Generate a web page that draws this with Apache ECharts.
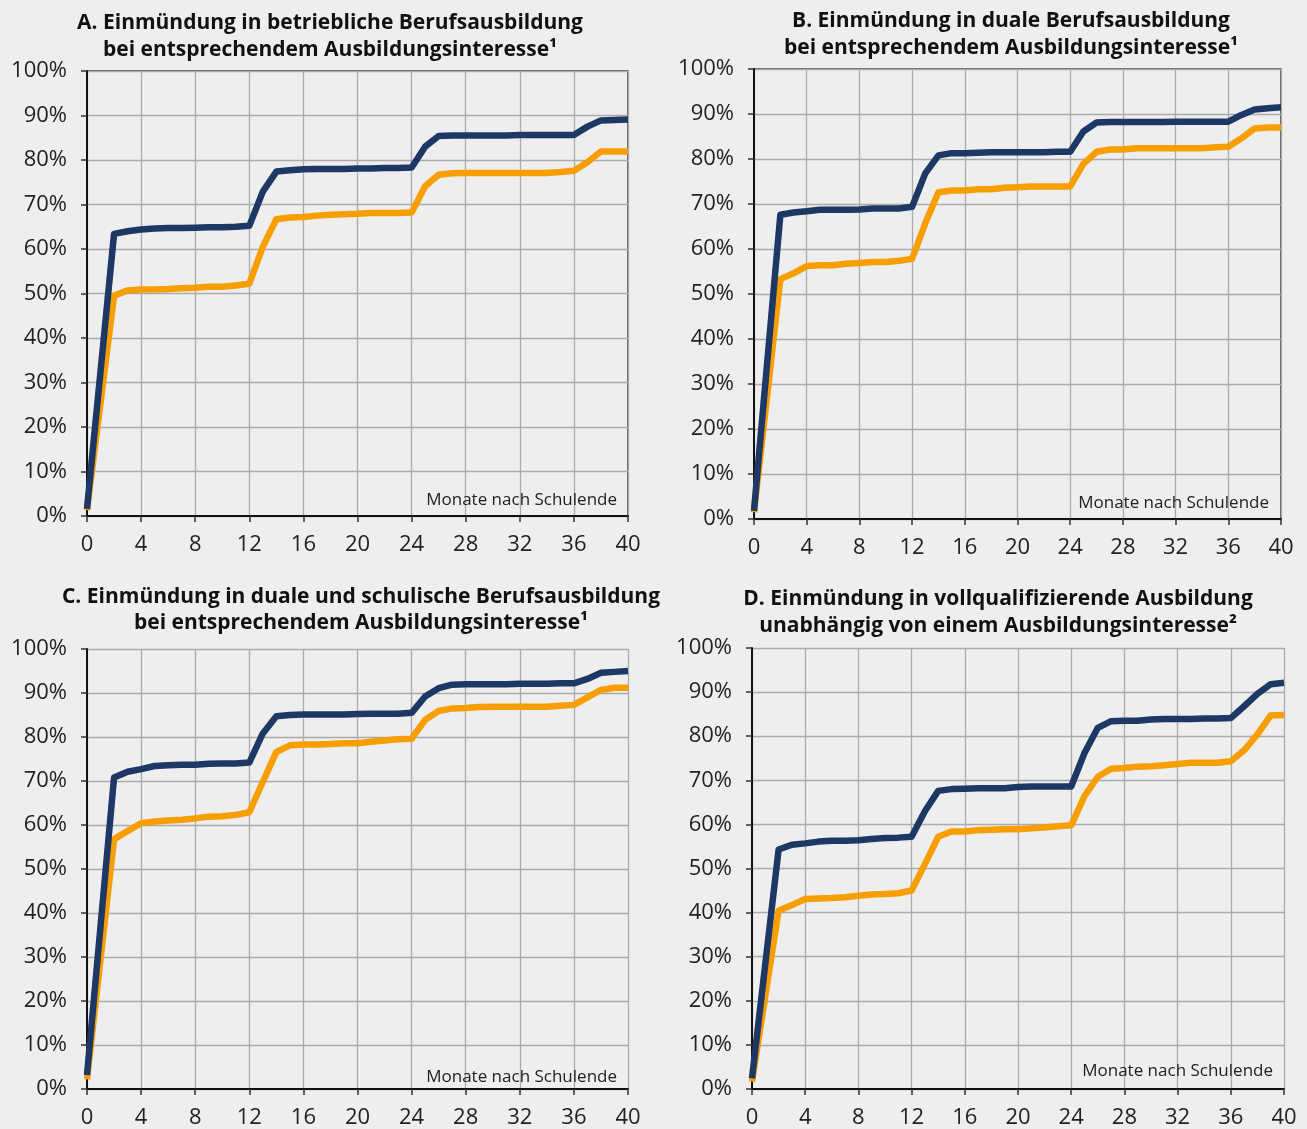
<!DOCTYPE html>
<html>
<head>
<meta charset="utf-8">
<script src="https://cdn.jsdelivr.net/npm/echarts@6/dist/echarts.min.js"></script>
<style>
html,body{margin:0;padding:0;background:#eeeeee;}
#chart{width:1307px;height:1129px;}
</style>
</head>
<body>
<div id="chart"></div>
<script>
// Months after school end (x values)
var months = [0,2,3,4,5,6,7,8,9,10,11,12,13,14,15,16,17,18,19,20,21,22,23,24,25,26,27,28,29,30,31,32,33,34,35,36,37,38,39,40];
var xTicks = [0,4,8,12,16,20,24,28,32,36,40];
var yTicks = [0,10,20,30,40,50,60,70,80,90,100];

var titlesA = ['A. Einmündung in betriebliche Berufsausbildung', 'bei entsprechendem Ausbildungsinteresse¹'];
var titlesB = ['B. Einmündung in duale Berufsausbildung', 'bei entsprechendem Ausbildungsinteresse¹'];
var titlesC = ['C. Einmündung in duale und schulische Berufsausbildung', 'bei entsprechendem Ausbildungsinteresse¹'];
var titlesD = ['D. Einmündung in vollqualifizierende Ausbildung', 'unabhängig von einem Ausbildungsinteresse²'];
var xName = 'Monate nach Schulende';

// Panel A
var aNavy = [1.6,63.4,64.0,64.4,64.6,64.7,64.7,64.8,64.9,64.9,65.0,65.2,72.9,77.4,77.7,77.9,78.0,78.0,78.0,78.1,78.1,78.2,78.2,78.3,83.0,85.4,85.5,85.5,85.5,85.5,85.5,85.6,85.6,85.6,85.6,85.6,87.5,88.9,89.0,89.1];
var aOrange = [1.3,49.5,50.7,50.9,50.9,51.0,51.2,51.3,51.5,51.5,51.8,52.2,60.5,66.7,67.1,67.2,67.5,67.7,67.8,67.9,68.1,68.1,68.1,68.2,74.1,76.7,77.0,77.1,77.1,77.1,77.1,77.1,77.1,77.1,77.3,77.6,79.5,81.9,81.9,81.9];
// Panel B
var bNavy = [1.8,67.6,68.1,68.4,68.7,68.7,68.7,68.8,69.0,69.0,69.0,69.4,76.8,80.8,81.3,81.3,81.4,81.5,81.5,81.5,81.5,81.5,81.6,81.6,86.1,88.1,88.2,88.2,88.2,88.2,88.2,88.3,88.3,88.3,88.3,88.3,89.8,91.0,91.3,91.5];
var bOrange = [1.5,53.3,54.6,56.2,56.4,56.4,56.7,56.9,57.1,57.1,57.4,57.8,65.7,72.6,73.0,73.0,73.3,73.3,73.6,73.7,73.9,73.9,73.9,73.9,78.9,81.6,82.1,82.1,82.4,82.4,82.4,82.4,82.4,82.4,82.6,82.7,84.6,86.8,87.0,87.0];
// Panel C
var cNavy = [3.2,70.8,72.1,72.7,73.4,73.6,73.7,73.7,73.9,74.0,74.0,74.2,80.8,84.7,85.0,85.1,85.1,85.1,85.1,85.2,85.3,85.3,85.3,85.5,89.2,91.1,91.9,92.0,92.0,92.0,92.0,92.1,92.1,92.1,92.2,92.2,93.2,94.6,94.8,95.0];
var cOrange = [2.2,56.8,58.6,60.4,60.8,61.0,61.2,61.5,61.9,62.0,62.3,62.9,69.8,76.6,78.1,78.3,78.3,78.4,78.6,78.6,78.9,79.2,79.5,79.6,83.9,85.9,86.5,86.6,86.8,86.9,86.9,86.9,86.9,86.9,87.1,87.3,89.0,90.7,91.2,91.2];
// Panel D
var dNavy = [2.4,54.3,55.4,55.7,56.1,56.3,56.3,56.4,56.7,56.9,57.0,57.2,63.0,67.6,68.0,68.1,68.2,68.2,68.2,68.5,68.6,68.6,68.6,68.6,76.2,81.9,83.4,83.5,83.5,83.8,83.9,83.9,83.9,84.0,84.0,84.1,86.8,89.6,91.8,92.1];
var dOrange = [1.7,40.4,41.7,43.1,43.2,43.3,43.5,43.8,44.1,44.2,44.4,45.0,51.0,57.2,58.4,58.4,58.7,58.8,58.9,58.9,59.1,59.3,59.6,59.8,66.4,70.8,72.6,72.8,73.1,73.2,73.4,73.7,74.0,74.0,74.0,74.3,76.8,80.4,84.7,84.8];

var NAVY = '#1d3865';
var ORANGE = '#f79e02';

function pairs(vals){ return months.map(function(m,i){ return [m, vals[i]]; }); }

var panels = [
  {grid:{left:87, top:71, width:541, height:445, show:true, borderColor:'#333', borderWidth:1.5, backgroundColor:'transparent'}, navy:aNavy, orange:aOrange, titles:titlesA, tx:330, ty:[23,50], nx:617, ny:500},
  {grid:{left:754, top:69, width:527, height:450, show:true, borderColor:'#333', borderWidth:1.5, backgroundColor:'transparent'}, navy:bNavy, orange:bOrange, titles:titlesB, tx:1011, ty:[21,48], nx:1269, ny:503},
  {grid:{left:87, top:649, width:541, height:443}, navy:cNavy, orange:cOrange, titles:titlesC, tx:361, ty:[597,623], nx:617, ny:1077},
  {grid:{left:752, top:648, width:532, height:442}, navy:dNavy, orange:dOrange, titles:titlesD, tx:998, ty:[599,626], nx:1273, ny:1071}
];

var LABEL_FONT = '"Open Sans", sans-serif';
var grids=[], xAxes=[], yAxes=[], series=[], graphics=[];
panels.forEach(function(p, i){
  grids.push(p.grid);
  xAxes.push({
    type:'value', gridIndex:i, min:xTicks[0], max:xTicks[xTicks.length-1], interval:xTicks[1]-xTicks[0],
    axisLine:{show:true, onZero:false, lineStyle:{color:'#111', width:2}},
    axisTick:{show:true, length:6, lineStyle:{color:'#333', width:1.5}},
    splitLine:{show:true, lineStyle:{color:'#ababab', width:1.3}},
    axisLabel:{color:'#222', fontSize:22, fontFamily:LABEL_FONT, margin:18}
  });
  yAxes.push({
    type:'value', gridIndex:i, min:yTicks[0], max:yTicks[yTicks.length-1], interval:yTicks[1]-yTicks[0],
    axisLine:{show:true, lineStyle:{color:'#111', width:2}},
    axisTick:{show:true, length:6, lineStyle:{color:'#333', width:1.5}},
    splitLine:{show:true, lineStyle:{color:'#ababab', width:1.3}},
    axisLabel:{color:'#222', fontSize:22, fontFamily:LABEL_FONT, margin:20, formatter:'{value}%'}
  });
  series.push({type:'line', xAxisIndex:i, yAxisIndex:i, data:pairs(p.orange), showSymbol:false, symbol:'none', smooth:false,
    lineStyle:{color:ORANGE, width:6.5, cap:'butt', join:'round'}, z:3, silent:true, animation:false});
  series.push({type:'line', xAxisIndex:i, yAxisIndex:i, data:pairs(p.navy), showSymbol:false, symbol:'none', smooth:false,
    lineStyle:{color:NAVY, width:6.5, cap:'butt', join:'round'}, z:4, silent:true, animation:false});
  p.titles.forEach(function(t, k){
    graphics.push({type:'text', x:p.tx, y:p.ty[k], silent:true, style:{text:t, textAlign:'center', textVerticalAlign:'middle',
      font:'bold 21px "Open Sans", sans-serif', fill:'#111'}});
  });
  graphics.push({type:'text', x:p.nx, y:p.ny, silent:true, z:10, style:{text:xName, textAlign:'right', textVerticalAlign:'middle',
    font:'17px "Open Sans", sans-serif', fill:'#222'}});
});

var chart = echarts.init(document.getElementById('chart'), null, {renderer:'canvas'});
chart.setOption({
  backgroundColor:'#eeeeee',
  animation:false,
  grid:grids, xAxis:xAxes, yAxis:yAxes, series:series, graphic:graphics
});
</script>
</body>
</html>
